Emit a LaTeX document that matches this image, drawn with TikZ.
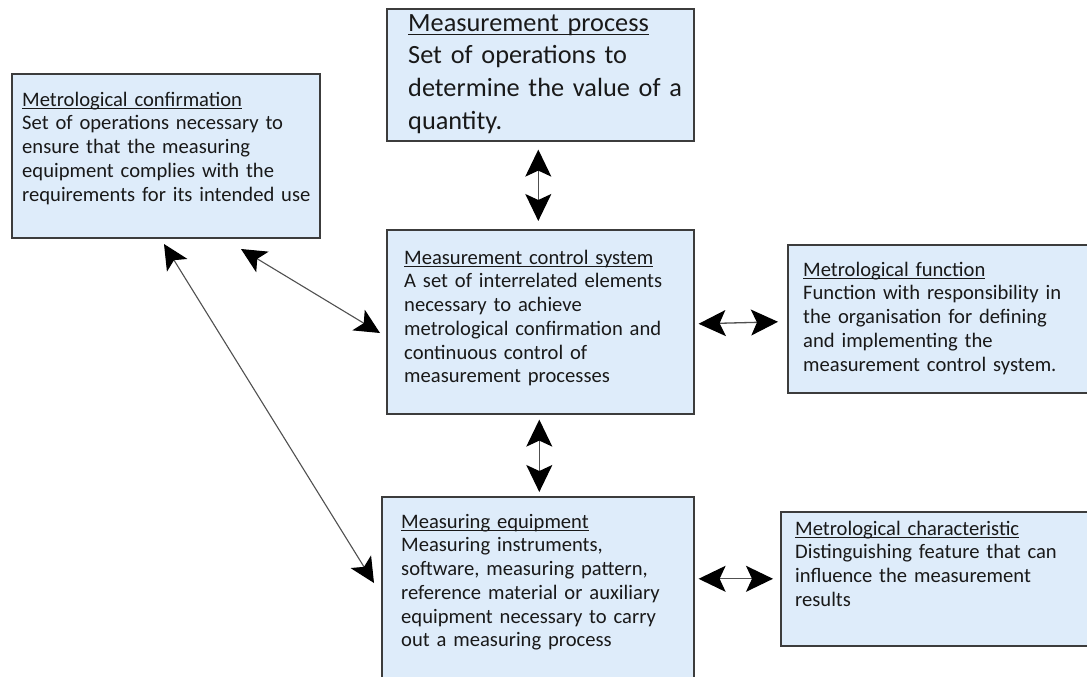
\documentclass[tikz,border=0pt]{standalone}
\usepackage{fontspec}
\setmainfont{Carlito}
\usetikzlibrary{arrows.meta}
\definecolor{boxfill}{RGB}{222,236,250}
\definecolor{boxedge}{RGB}{60,60,60}
\definecolor{linkgray}{RGB}{80,80,80}
\newlength\uldrop
\newsavebox\hdrbox
% underlined heading line, with a strut fixing the top of the first line at 1em
\newcommand\hdr[1]{\rule{0pt}{1em}\sbox\hdrbox{#1}\rlap{\rule[-\uldrop]{\wd\hdrbox}{0.9pt}}\usebox\hdrbox}
\tikzset{
  box/.style={draw=boxedge, line width=1.6pt, fill=boxfill, anchor=north west, inner sep=0pt},
  txt/.style={anchor=north west, inner sep=0pt, text width=340pt, align=left, text=black!90},
  small/.style={font=\fontsize{20.6}{23.7}\selectfont\setlength\uldrop{3pt}},
  large/.style={font=\fontsize{26.3}{32.7}\selectfont\setlength\uldrop{3.5pt}},
  link/.style={draw=linkgray, line width=1.3pt,
    {Stealth[length=27pt,width=26pt,inset=6pt,color=black]}-{Stealth[length=27pt,width=26pt,inset=6pt,color=black]}},
  dlink/.style={draw=linkgray, line width=1.1pt,
    {Stealth[length=25pt,width=24pt,inset=6pt,color=black]}-{Stealth[length=25pt,width=24pt,inset=6pt,color=black]}}
}
\begin{document}
\begin{tikzpicture}[x=1pt,y=-1pt]
\useasboundingbox (0,0) rectangle (1087,677);
\fill[white] (0,0) rectangle (1087,677);

% boxes
\node[box, minimum width=307pt, minimum height=132pt] (mp)   at (386,8)   {};
\node[box, minimum width=308pt, minimum height=164pt] (conf) at (11,73)   {};
\node[box, minimum width=307pt, minimum height=184pt] (mcs)  at (386,229) {};
\node[box, minimum width=310pt, minimum height=148pt] (mf)   at (787,244) {};
\node[box, minimum width=312pt, minimum height=190pt] (me)   at (381,496) {};
\node[box, minimum width=315pt, minimum height=134pt] (mc)   at (780,511) {};

% texts
\node[txt, large] (tmp) at (408,4.7) {\hdr{Measurement process}\\Set of operations to\\determine the value of a\\quantity.};
\node[txt, small] (tconf) at (22,85.4) {\hdr{Metrological confirmation}\\Set of operations necessary to\\ensure that the measuring\\equipment complies with the\\requirements for its intended use};
\node[txt, small] (tmcs) at (404,243.4) {\hdr{Measurement control system}\\A set of interrelated elements\\necessary to achieve\\metrological confirmation and\\continuous control of\\measurement processes};
\node[txt, small] (tmf) at (803,255.4) {\hdr{Metrological function}\\Function with responsibility in\\the organisation for defining\\and implementing the\\measurement control system.};
\node[txt, small] (tme) at (401,507.4) {\hdr{Measuring equipment}\\Measuring instruments,\\software, measuring pattern,\\reference material or auxiliary\\equipment necessary to carry\\out a measuring process};
\node[txt, small] (tmc) at (795,514.4) {\hdr{Metrological characteristic}\\Distinguishing feature that can\\influence the measurement\\results};

% connector end points
\coordinate (cf1) at (241,249);
\coordinate (cs1) at (380,333);
\coordinate (cf2) at (164,244);
\coordinate (ce2) at (374,583);

% connectors
\draw[link] ([xshift=-2pt,yshift=-8pt]mp.south) -- ([xshift=-2pt,yshift=8pt]mp.south |- mcs.north);
\draw[link] ([xshift=-1pt,yshift=-5pt]mcs.south) -- ([xshift=-1pt,yshift=4pt]mcs.south |- me.north);
\draw[link] ([xshift=4pt,yshift=-2pt]mcs.east) -- ([xshift=-9pt]mcs.east -| mf.west);
\draw[link] ([xshift=4pt]mc.west -| me.east) -- ([xshift=-7pt]mc.west);
\draw[dlink] (cf1) -- (cs1);
\draw[dlink] (cf2) -- (ce2);
\end{tikzpicture}
\end{document}
